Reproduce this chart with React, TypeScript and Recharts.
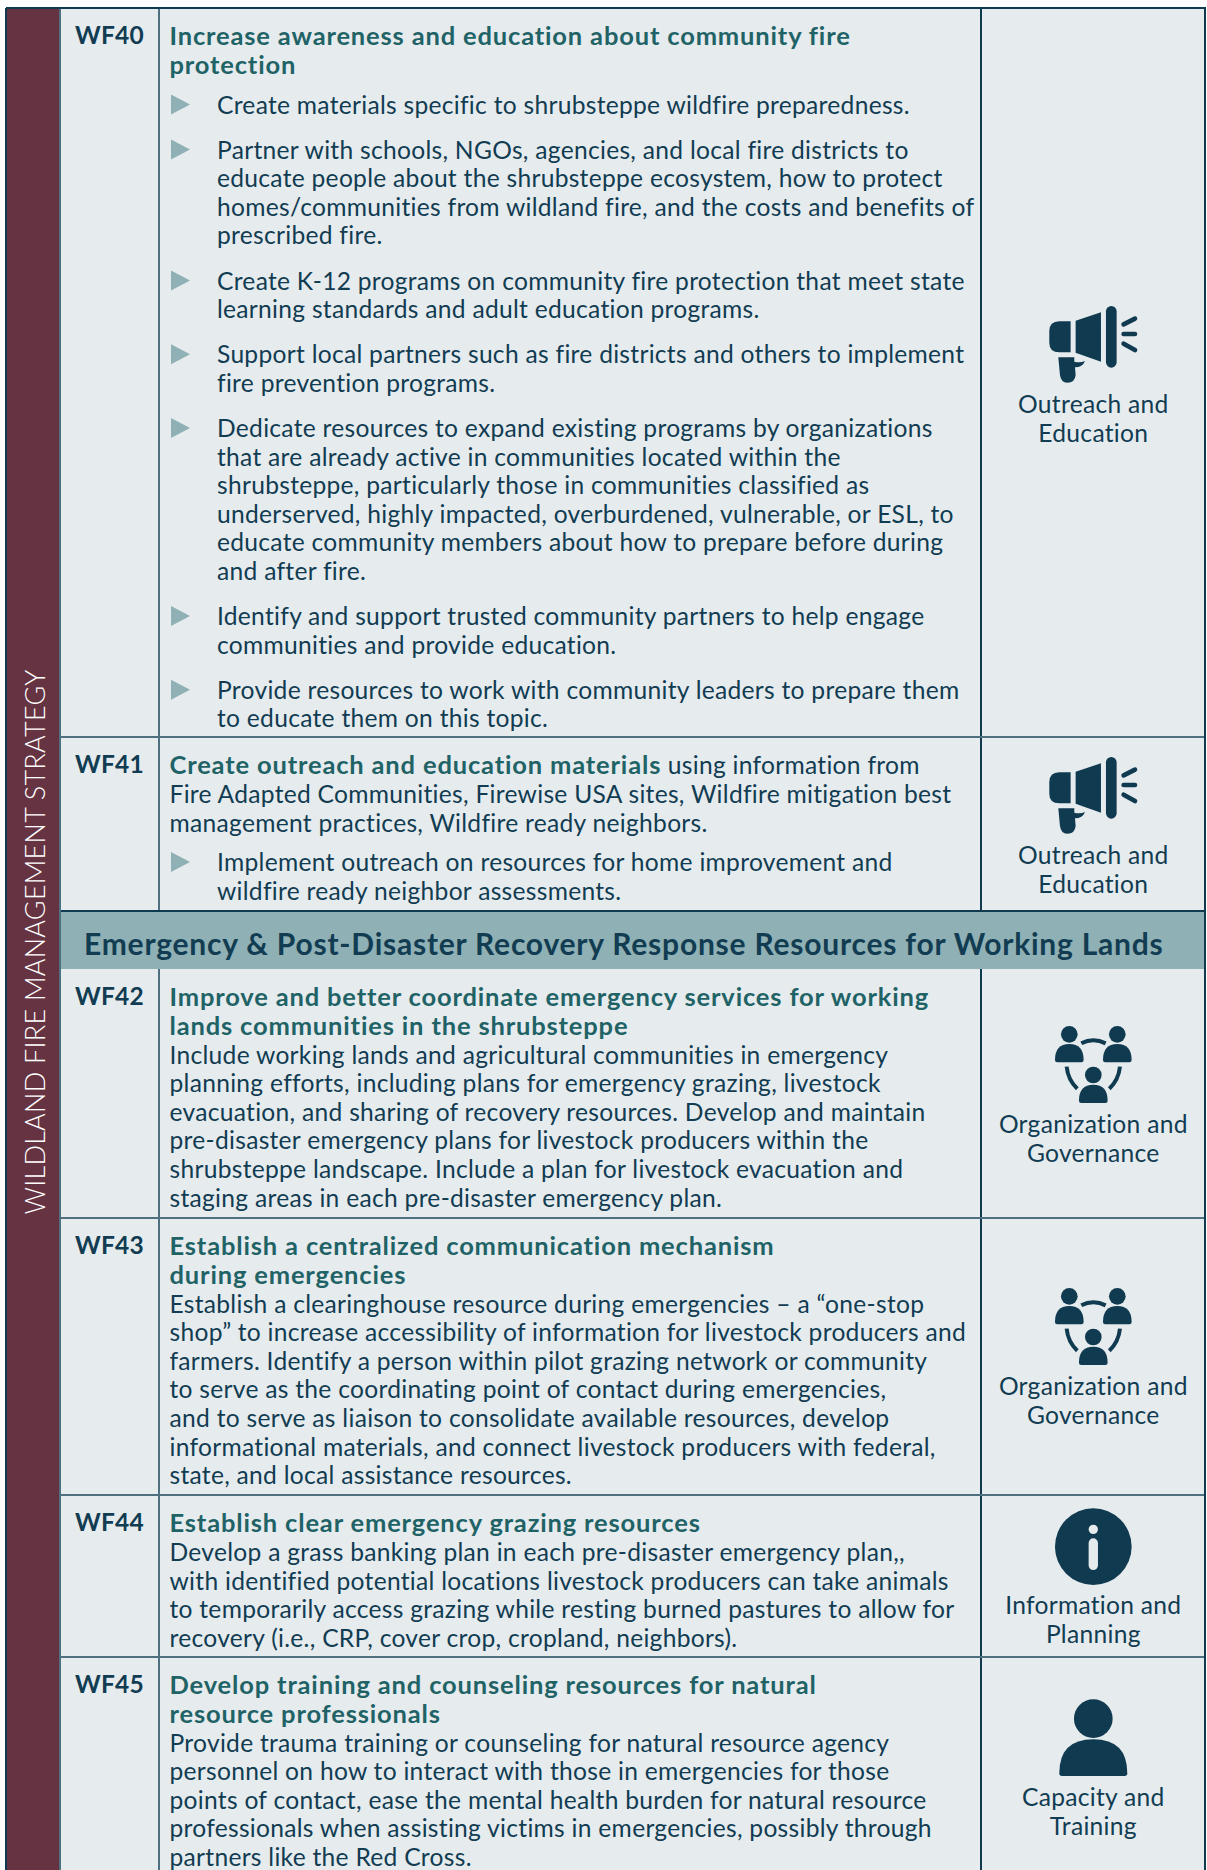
import { ScatterChart, Scatter, XAxis, YAxis, ReferenceArea, ReferenceLine } from 'recharts';

const codes = ['WF40', 'WF41', 'WF42', 'WF43', 'WF44', 'WF45'];
const sideLabel = ['WILDLAND FIRE MANAGEMENT STRATEGY'];
const bannerLabel = ['Emergency & Post-Disaster Recovery Response Resources for Working Lands'];

const wf40Title = ['Increase awareness and education about community fire', 'protection'];
const wf40Bullets = [
  ['Create materials specific to shrubsteppe wildfire preparedness.'],
  [
    'Partner with schools, NGOs, agencies, and local fire districts to',
    'educate people about the shrubsteppe ecosystem, how to protect',
    'homes/communities from wildland fire, and the costs and benefits of',
    'prescribed fire.',
  ],
  ['Create K-12 programs on community fire protection that meet state', 'learning standards and adult education programs.'],
  ['Support local partners such as fire districts and others to implement', 'fire prevention programs.'],
  [
    'Dedicate resources to expand existing programs by organizations',
    'that are already active in communities located within the',
    'shrubsteppe, particularly those in communities classified as',
    'underserved, highly impacted, overburdened, vulnerable, or ESL, to',
    'educate community members about how to prepare before during',
    'and after fire.',
  ],
  ['Identify and support trusted community partners to help engage', 'communities and provide education.'],
  ['Provide resources to work with community leaders to prepare them', 'to educate them on this topic.'],
];

const wf41Title = ['Create outreach and education materials'];
const wf41TitleTail = ' using information from';
const wf41Body = [
  'Fire Adapted Communities, Firewise USA sites, Wildfire mitigation best',
  'management practices, Wildfire ready neighbors.',
];
const wf41Bullets = [['Implement outreach on resources for home improvement and', 'wildfire ready neighbor assessments.']];

const wf42Title = ['Improve and better coordinate emergency services for working', 'lands communities in the shrubsteppe'];
const wf42Body = [
  'Include working lands and agricultural communities in emergency',
  'planning efforts, including plans for emergency grazing, livestock',
  'evacuation, and sharing of recovery resources. Develop and maintain',
  'pre-disaster emergency plans for livestock producers within the',
  'shrubsteppe landscape. Include a plan for livestock evacuation and',
  'staging areas in each pre-disaster emergency plan.',
];

const wf43Title = ['Establish a centralized communication mechanism', 'during emergencies'];
const wf43Body = [
  'Establish a clearinghouse resource during emergencies \u2013 a \u201cone-stop',
  'shop\u201d to increase accessibility of information for livestock producers and',
  'farmers. Identify a person within pilot grazing network or community',
  'to serve as the coordinating point of contact during emergencies,',
  'and to serve as liaison to consolidate available resources, develop',
  'informational materials, and connect livestock producers with federal,',
  'state, and local assistance resources.',
];

const wf44Title = ['Establish clear emergency grazing resources'];
const wf44Body = [
  'Develop a grass banking plan in each pre-disaster emergency plan,,',
  'with identified potential locations livestock producers can take animals',
  'to temporarily access grazing while resting burned pastures to allow for',
  'recovery (i.e., CRP, cover crop, cropland, neighbors).',
];

const wf45Title = ['Develop training and counseling resources for natural', 'resource professionals'];
const wf45Body = [
  'Provide trauma training or counseling for natural resource agency',
  'personnel on how to interact with those in emergencies for those',
  'points of contact, ease the mental health burden for natural resource',
  'professionals when assisting victims in emergencies, possibly through',
  'partners like the Red Cross.',
];

const iconKinds = ['megaphone', 'megaphone', 'people', 'people', 'info', 'person'];
const iconLabels = [
  ['Outreach and', 'Education'],
  ['Outreach and', 'Education'],
  ['Organization and', 'Governance'],
  ['Organization and', 'Governance'],
  ['Information and', 'Planning'],
  ['Capacity and', 'Training'],
];

const WIDTH = 1207;
const HEIGHT = 1870;
const FONT = 'Lato, sans-serif';
const INK = '#113c52';
const TEAL = '#1f6366';
const SLATE = '#8fb0b4';
const PANEL = '#e6ebee';
const MAROON = '#663342';
const RULE = '#4f7081';
const EDGE = '#0f3a50';

const TOP = 8;
const LEFT = 6;
const RIGHT = 1205;
const COL_CODE = 60;
const COL_TEXT = 159;
const COL_ICON = 981;
const TEXT_X = 169.5;
const BULLET_X = 217;
const ICON_X = 1093.3;
const LINE = 28.6;
const rowTops = [8, 737, 969, 1218, 1495, 1657];
const rowBottoms = [737, 911, 1218, 1495, 1657, HEIGHT];
const iconYs = [345, 796, 1065, 1327, 1546.7, 1737.7];
const iconLabelYs = [412.5, 863.5, 1132.5, 1394.8, 1613.8, 1805.8];

const rowBlocks = [
  { title: wf40Title, body: [] as string[], bullets: wf40Bullets },
  { title: wf41Title, tail: wf41TitleTail, body: wf41Body, bullets: wf41Bullets },
  { title: wf42Title, body: wf42Body, bullets: [] as string[][] },
  { title: wf43Title, body: wf43Body, bullets: [] as string[][] },
  { title: wf44Title, body: wf44Body, bullets: [] as string[][] },
  { title: wf45Title, body: wf45Body, bullets: [] as string[][] },
];

const codeMarks: any[] = [];
const titleMarks: any[] = [];
const bodyMarks: any[] = [];
const bulletMarks: any[] = [];
const iconMarks: any[] = [];
const iconLabelMarks: any[] = [];

rowBlocks.forEach((row: any, i) => {
  let y = rowTops[i] + 36.5;
  codeMarks.push({ px: 75, py: y - 1, text: codes[i] });
  row.title.forEach((text: string, k: number) => {
    titleMarks.push({ px: TEXT_X, py: k === 0 ? y : y + 0.8, text, tail: k === 0 ? row.tail : undefined });
    y += LINE;
  });
  y += 0.8;
  row.body.forEach((text: string) => {
    bodyMarks.push({ px: TEXT_X, py: y, text });
    y += LINE;
  });
  y += 11;
  row.bullets.forEach((lines: string[]) => {
    bulletMarks.push({ px: 171, py: y });
    lines.forEach((text) => {
      bodyMarks.push({ px: BULLET_X, py: y, text });
      y += LINE;
    });
    y += 16.5;
  });
  iconMarks.push({ px: ICON_X, py: iconYs[i], kind: iconKinds[i] });
  iconLabels[i].forEach((text, k) => {
    iconLabelMarks.push({ px: ICON_X, py: iconLabelYs[i] + k * 29, text });
  });
});

const sideMarks = [{ px: 34.5, py: 942, text: sideLabel[0] }];
const bannerMarks = [{ px: 84, py: 955, text: bannerLabel[0] }];

const BodyLine = ({ cx, cy, payload }: any) => (
  <text x={cx} y={cy} fontFamily={FONT} fontSize={24.6} letterSpacing={0.28} fill={INK}>
    {payload.text}
  </text>
);

const TitleLine = ({ cx, cy, payload }: any) => (
  <text x={cx} y={cy} fontFamily={FONT} fontSize={25.5} fontWeight={700} letterSpacing={0.84} fill={TEAL}>
    {payload.text}
    {payload.tail && (
      <tspan fontSize={24.6} fontWeight={400} letterSpacing={0.28} fill={INK}>
        {payload.tail}
      </tspan>
    )}
  </text>
);

const CodeLine = ({ cx, cy, payload }: any) => (
  <text x={cx} y={cy} fontFamily={FONT} fontSize={24.5} fontWeight={700} letterSpacing={0.2} fill={INK}>
    {payload.text}
  </text>
);

const BannerLine = ({ cx, cy, payload }: any) => (
  <text x={cx} y={cy} fontFamily={FONT} fontSize={30} fontWeight={700} letterSpacing={0.78} fill={INK}>
    {payload.text}
  </text>
);

const SideLine = ({ cx, cy, payload }: any) => (
  <text
    x={cx}
    y={cy}
    transform={`rotate(-90 ${cx} ${cy})`}
    textAnchor="middle"
    dominantBaseline="central"
    fontFamily={FONT}
    fontSize={27}
    fontWeight={300}
    letterSpacing={0.25}
    fill="#ffffff"
  >
    {payload.text}
  </text>
);

const IconLabel = ({ cx, cy, payload }: any) => (
  <text x={cx} y={cy} textAnchor="middle" fontFamily={FONT} fontSize={24.6} letterSpacing={0.28} fill={INK}>
    {payload.text}
  </text>
);

const BulletMark = ({ cx, cy }: any) => (
  <path d={`M${cx} ${cy - 19} L${cx + 19} ${cy - 9} L${cx} ${cy + 1} Z`} fill={SLATE} />
);

const Dome = ({ dx, dy }: { dx: number; dy: number }) => (
  <g transform={`translate(${dx} ${dy})`}>
    <circle cx={328} cy={103} r={25} />
    <path d="M285 180 Q285 132 328 132 Q371 132 371 180 Q371 187 364 187 H292 Q285 187 285 180 Z" />
  </g>
);

// icons are drawn in 3x units around their centre
const IconMark = ({ cx, cy, payload }: any) => {
  const move = `translate(${cx} ${cy}) scale(${1 / 3})`;
  if (payload.kind === 'megaphone') {
    return (
      <g transform={`${move} translate(-400 -195)`} fill={EDGE}>
        <path d="M332 124 H298 Q268 124 268 154 V188 Q268 217 298 217 H332 Z" />
        <path d="M347 122 L423 97 V245 L347 218 Z" />
        <rect x={438} y={78} width={32} height={185} rx={16} />
        <path d="M295 232 H343 V245 Q360 250 375 243 Q368 262 345 262 L347 285 Q345 308 322 308 Q303 308 300 285 Z" />
        <g stroke={EDGE} strokeWidth={14} strokeLinecap="round" fill="none">
          <path d="M491 133 L525 116" />
          <path d="M491 162 L525 162" />
          <path d="M491 191 L525 210" />
        </g>
      </g>
    );
  }
  if (payload.kind === 'people') {
    return (
      <g transform={`${move} translate(-400 -195)`} fill={EDGE}>
        <Dome dx={0} dy={0} />
        <Dome dx={144} dy={0} />
        <Dome dx={72} dy={122} />
        <g stroke={EDGE} strokeWidth={12} fill="none">
          <path d="M364 130 Q400 112 437 130" />
          <path d="M320 200 Q324 240 352 266" />
          <path d="M480 200 Q476 240 448 266" />
        </g>
      </g>
    );
  }
  if (payload.kind === 'info') {
    return (
      <g transform={move}>
        <circle r={115} fill={EDGE} />
        <circle cy={-52} r={14} fill={PANEL} />
        <rect x={-14} y={-25} width={28} height={95} rx={14} fill={PANEL} />
      </g>
    );
  }
  return (
    <g transform={`${move} translate(-400 -773)`} fill={EDGE}>
      <circle cx={400} cy={716} r={58} />
      <path d="M298 880 Q298 778 400 778 Q502 778 502 880 Q502 888 494 888 H306 Q298 888 298 880 Z" />
    </g>
  );
};

export default function App() {
  return (
    <div style={{ position: 'absolute', left: 0, top: 0, width: WIDTH, height: HEIGHT, background: '#ffffff' }}>
      <ScatterChart width={WIDTH} height={HEIGHT} margin={{ top: 0, right: 0, bottom: 0, left: 0 }}>
        <XAxis type="number" dataKey="px" domain={[0, WIDTH]} hide />
        <YAxis type="number" dataKey="py" domain={[0, HEIGHT]} reversed hide />

        <ReferenceArea x1={COL_CODE} x2={RIGHT} y1={TOP} y2={HEIGHT} fill={PANEL} fillOpacity={1} stroke="none" />
        <ReferenceArea x1={LEFT} x2={COL_CODE} y1={TOP} y2={HEIGHT} fill={MAROON} fillOpacity={1} stroke="none" />
        <ReferenceArea x1={COL_CODE} x2={RIGHT} y1={rowBottoms[1]} y2={rowTops[2]} fill={SLATE} fillOpacity={1} stroke="none" />

        {[
          [rowTops[0], rowBottoms[1]],
          [rowTops[2], HEIGHT],
        ].map(([a, b]) => (
          <ReferenceLine key={`c${a}`} segment={[{ x: COL_TEXT, y: a }, { x: COL_TEXT, y: b }]} stroke={RULE} strokeWidth={2} />
        ))}
        {[
          [rowTops[0], rowBottoms[1]],
          [rowTops[2], HEIGHT],
        ].map(([a, b]) => (
          <ReferenceLine key={`i${a}`} segment={[{ x: COL_ICON, y: a }, { x: COL_ICON, y: b }]} stroke={EDGE} strokeWidth={2} />
        ))}
        {rowBottoms.slice(0, 5).map((y) => (
          <ReferenceLine key={y} stroke={y === rowBottoms[1] || y === rowTops[2] ? EDGE : RULE} strokeWidth={2} segment={[{ x: COL_CODE, y }, { x: RIGHT, y }]} />
        ))}
        <ReferenceLine segment={[{ x: COL_CODE, y: TOP }, { x: COL_CODE, y: HEIGHT }]} stroke={RULE} strokeWidth={2} />
        <ReferenceLine segment={[{ x: LEFT, y: TOP }, { x: RIGHT + 1, y: TOP }]} stroke={EDGE} strokeWidth={2} />
        <ReferenceLine segment={[{ x: LEFT, y: TOP }, { x: LEFT, y: HEIGHT }]} stroke={EDGE} strokeWidth={2} />
        <ReferenceLine segment={[{ x: RIGHT, y: TOP }, { x: RIGHT, y: HEIGHT }]} stroke={EDGE} strokeWidth={2} />

        <Scatter data={sideMarks} shape={SideLine} isAnimationActive={false} />
        <Scatter data={bannerMarks} shape={BannerLine} isAnimationActive={false} />
        <Scatter data={codeMarks} shape={CodeLine} isAnimationActive={false} />
        <Scatter data={titleMarks} shape={TitleLine} isAnimationActive={false} />
        <Scatter data={bodyMarks} shape={BodyLine} isAnimationActive={false} />
        <Scatter data={bulletMarks} shape={BulletMark} isAnimationActive={false} />
        <Scatter data={iconMarks} shape={IconMark} isAnimationActive={false} />
        <Scatter data={iconLabelMarks} shape={IconLabel} isAnimationActive={false} />
      </ScatterChart>
    </div>
  );
}
